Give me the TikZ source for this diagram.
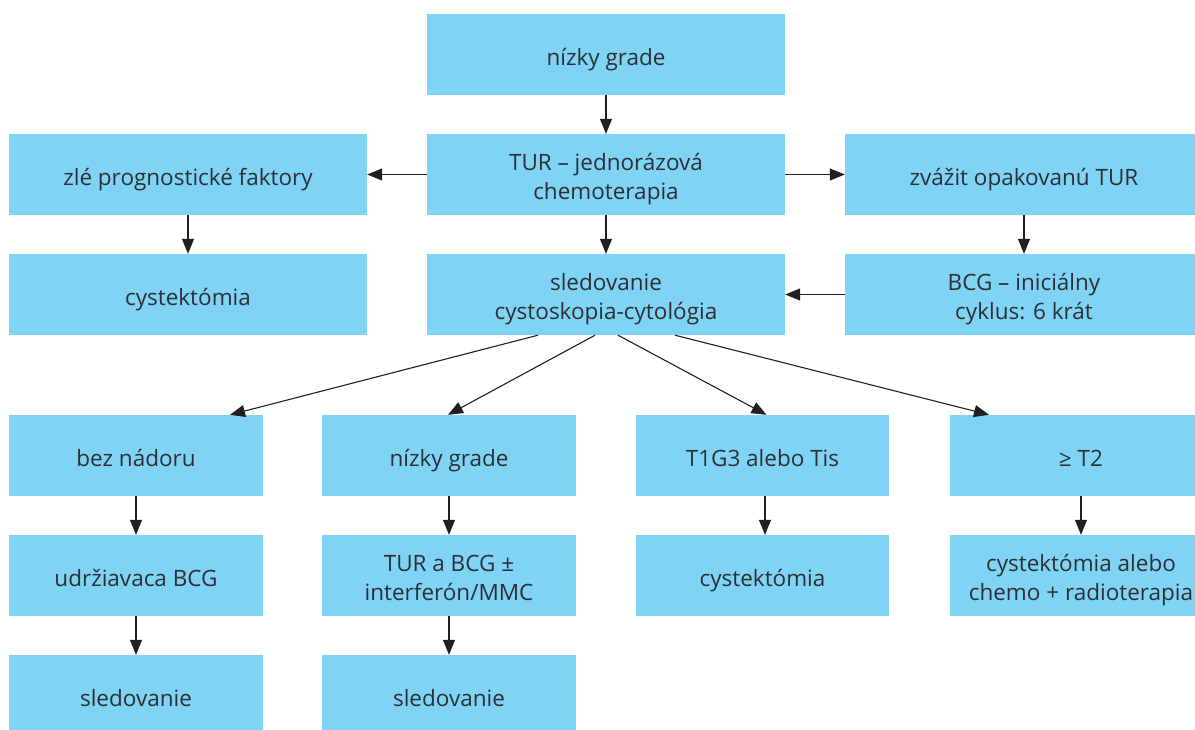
\documentclass[tikz,border=0pt]{standalone}
\usepackage{fontspec}
\setmainfont{Open Sans}
\usetikzlibrary{arrows.meta}
\definecolor{boxblue}{RGB}{127,211,245}
\definecolor{txt}{RGB}{45,47,52}
\definecolor{arrowc}{RGB}{35,31,32}
\begin{document}
\begin{tikzpicture}[x=1pt,y=-1pt,
  box/.style={rectangle, fill=boxblue, inner sep=0pt, minimum height=81pt, text=txt, align=center, font=\fontsize{22.5}{29}\selectfont, text height=22.4pt, text depth=0pt},
  two/.style={text height=49pt, text depth=0pt},
  wide/.style={box, minimum width=358pt},
  narrow/.style={box, minimum width=254pt},
  arr/.style={draw=arrowc, line width=1.1pt, -{Triangle[length=15pt,width=12pt]}}]
\useasboundingbox (0,0) rectangle (1195,729);
\clip (0,0) rectangle (1195,729);
% top part
\node[wide] (top) at (606,54.5) {nízky grade};
\node[wide] (zle) at (188,174.5) {zlé prognostické faktory};
\node[wide, two] (tur) at (606,174.5) {TUR – jednorázová\\chemoterapia};
\node[wide] (zvaz) at (1024,174.5) {zvážit opakovanú TUR};
\node[wide] (cyst) at (188,294.5) {cystektómia};
\node[wide, two] (sled) at (606,294.5) {sledovanie\\cystoskopia-cytológia};
\node[wide, two] (bcg) at (1024,294.5) {BCG – iniciálny\\cyklus: 6 krát};
% row 4
\node[narrow] (bez) at (136,455.5) {bez nádoru};
\node[narrow] (niz) at (449,455.5) {nízky grade};
\node[narrow, minimum width=253pt] (t1g3) at (762.5,455.5) {T1G3 alebo Tis};
\node[box, minimum width=262pt] (t2) at (1081,455.5) {≥ T2};
% row 5
\node[narrow] (udr) at (136,575.5) {udržiavaca BCG};
\node[narrow, two] (turb) at (449,575.5) {TUR a BCG ±\\interferón/MMC};
\node[narrow, minimum width=253pt] (cyst2) at (762.5,575.5) {cystektómia};
\node[box, two, minimum width=262pt] (cyst3) at (1081,575.5) {cystektómia alebo\\chemo + radioterapia};
% row 6
\node[narrow] (sled1) at (136,695.5) {sledovanie};
\node[narrow] (sled2) at (449,695.5) {sledovanie};
% arrows
\draw[arr] (top) -- (tur);
\draw[arr] (tur) -- (zle);
\draw[arr] (tur) -- (zvaz);
\draw[arr] (tur) -- (sled);
\draw[arr] (zle) -- (cyst);
\draw[arr] (zvaz) -- (bcg);
\draw[arr] (bcg) -- (sled);
\draw[arr] ([xshift=-68pt]sled.south) -- ([xshift=94pt]bez.north);
\draw[arr] ([xshift=-11pt]sled.south) -- ([xshift=-1pt]niz.north);
\draw[arr] ([xshift=12pt]sled.south) -- ([xshift=4pt]t1g3.north);
\draw[arr] ([xshift=69pt]sled.south) -- ([xshift=-92pt]t2.north);
\draw[arr] (bez) -- (udr);
\draw[arr] (udr) -- (sled1);
\draw[arr] (niz) -- (turb);
\draw[arr] (turb) -- (sled2);
\draw[arr] ([xshift=2.5pt]t1g3.south) -- ([xshift=2.5pt]cyst2.north);
\draw[arr] (t2) -- (cyst3);
\end{tikzpicture}
\end{document}
